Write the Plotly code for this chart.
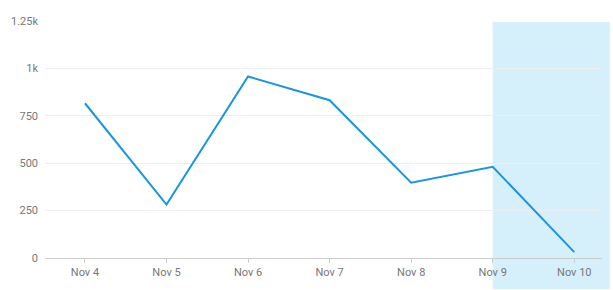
import plotly.graph_objects as go

categories = ["Nov 4", "Nov 5", "Nov 6", "Nov 7", "Nov 8", "Nov 9", "Nov 10"]
values = [816, 282, 957, 832, 397, 481, 31]
y_tickvals = [0, 250, 500, 750, 1000, 1250]
y_ticktext = ["0", "250", "500", "750", "1k", "1.25k"]
highlight_start = "Nov 9"

x_range = [-0.49, 6.34]
idx = categories.index(highlight_start)
x0_paper = (idx - x_range[0]) / (x_range[1] - x_range[0])

fig = go.Figure()
fig.add_trace(go.Scatter(
    x=list(range(len(categories))), y=values, mode="lines",
    line=dict(color="#1a96e0", width=2), hoverinfo="skip"
))
fig.add_shape(type="rect", xref="paper", yref="paper",
              x0=x0_paper, x1=1.014, y0=-0.13, y1=0.992,
              fillcolor="#d5f0fb", line=dict(width=0), layer="below")

fig.update_layout(
    width=613, height=290,
    margin=dict(l=42, r=11, t=20, b=27),
    paper_bgcolor="white", plot_bgcolor="rgba(0,0,0,0)",
    showlegend=False,
    font=dict(family="Roboto", size=11, color="#777777"),
    xaxis=dict(range=x_range, tickvals=list(range(len(categories))), ticktext=categories,
               showgrid=False, showline=True, linecolor="#cccccc", linewidth=1,
               ticks="outside", ticklen=4, tickcolor="#cccccc", zeroline=False,
               fixedrange=True),
    yaxis=dict(range=[0, 1255], tickvals=y_tickvals, ticktext=y_ticktext,
               showgrid=True, gridcolor="#eeeeee", gridwidth=1, zeroline=False,
               showline=False, ticks="", ticklabelstandoff=6, fixedrange=True),
)
fig.write_html("out.html")
